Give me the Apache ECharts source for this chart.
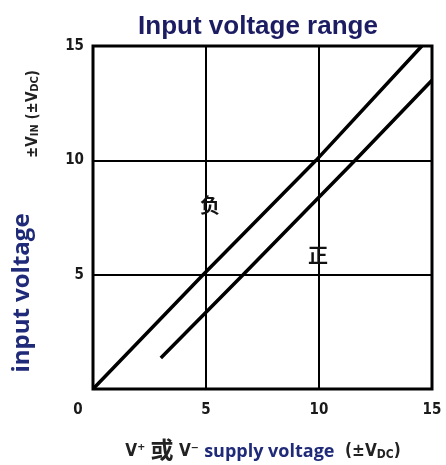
<!DOCTYPE html>
<html><head><meta charset="utf-8">
<script src="https://cdn.jsdelivr.net/npm/echarts@6/dist/echarts.min.js"></script>
<style>html,body{margin:0;padding:0;background:#fff;}#c{width:446px;height:465px;}</style>
</head><body><div id="c"></div>
<script>
// Tick labels
const xTicks = [0, 5, 10, 15];
const yTicks = [0, 5, 10, 15];
// Negative (负) input range line
const negX = [0, 4.87, 9.87, 14.55];
const negY = [0, 5, 10, 15];
// Positive (正) input range line
const posX = [3.0, 6.64, 11.6, 15];
const posY = [1.36, 5, 10, 13.5];
// Annotations
const labels = ['负', '正'];
const labelX = [5.18, 9.96];
const labelY = [8.05, 5.85];

const chart = echarts.init(document.getElementById('c'));
const pairs = (xs, ys) => xs.map((x, i) => [x, ys[i]]);
const tickFont = {fontFamily: 'DejaVu Sans Condensed', fontWeight: 'bold', fontSize: 15, color: '#1a1a1a'};

chart.setOption({
  animation: false,
  backgroundColor: '#fff',
  grid: {left: 93, right: 14, top: 46, bottom: 76, show: true, borderColor: '#000', borderWidth: 3},
  xAxis: {
    type: 'value', min: xTicks[0], max: xTicks[xTicks.length - 1], interval: 5,
    axisLine: {show: false}, axisTick: {show: false},
    splitLine: {show: true, lineStyle: {color: '#000', width: 2}},
    axisLabel: Object.assign({}, tickFont, {
      margin: 14,
      formatter: v => v === 0 ? '{z|0}' : String(v),
      rich: {z: Object.assign({}, tickFont, {padding: [0, 30, 0, 0]})}
    })
  },
  yAxis: {
    type: 'value', min: yTicks[0], max: yTicks[yTicks.length - 1], interval: 5,
    axisLine: {show: false}, axisTick: {show: false},
    splitLine: {show: true, lineStyle: {color: '#000', width: 2}},
    axisLabel: Object.assign({}, tickFont, {margin: 9, formatter: v => v === 0 ? '' : String(v)})
  },
  series: [
    {type: 'line', data: pairs(negX, negY), showSymbol: false, lineStyle: {color: '#000', width: 3.5}, silent: true,
     markPoint: {symbolSize: 0, silent: true,
       data: [{coord: [labelX[0], labelY[0]], value: labels[0]}],
       label: {show: true, formatter: p => p.value, color: '#111', fontSize: 20, fontFamily: 'Noto Sans CJK SC', fontWeight: 'bold'}}},
    {type: 'line', data: pairs(posX, posY), showSymbol: false, lineStyle: {color: '#000', width: 3.5}, silent: true,
     markPoint: {symbolSize: 0, silent: true,
       data: [{coord: [labelX[1], labelY[1]], value: labels[1]}],
       label: {show: true, formatter: p => p.value, color: '#111', fontSize: 20, fontFamily: 'Noto Sans CJK SC', fontWeight: 'bold'}}}
  ],
  graphic: [
    {type: 'text', x: 258, y: 27, style: {text: 'Input voltage range', fontFamily: 'Liberation Sans', fontWeight: 'bold', fontSize: 26, fill: '#1c1c62', align: 'center', verticalAlign: 'middle'}},
    {type: 'text', x: 22, y: 293, rotation: Math.PI / 2, style: {text: 'input voltage', fontFamily: 'Open Sans', fontWeight: 'bold', fontSize: 24, fill: '#1f2a78', align: 'center', verticalAlign: 'middle'}},
    {type: 'text', x: 32, y: 114, rotation: Math.PI / 2, style: {
      text: '{n|±V}{s|IN}{n| (±V}{s|DC}{n|)}', align: 'center', verticalAlign: 'middle',
      rich: {n: {fontFamily: 'DejaVu Sans Condensed', fontWeight: 'bold', fontSize: 15, fill: '#222', verticalAlign: 'bottom'},
             s: {fontFamily: 'DejaVu Sans Condensed', fontWeight: 'bold', fontSize: 11, fill: '#222', verticalAlign: 'bottom', padding: [7, 0, 0, 0]}}}},
    {type: 'text', x: 263, y: 449, style: {
      text: '{n|V⁺ }{c|或}{n| V⁻ }{b|supply voltage}{n|  (±V}{s|DC}{n|)}', align: 'center', verticalAlign: 'middle',
      rich: {n: {fontFamily: 'DejaVu Sans Condensed', fontWeight: 'bold', fontSize: 17, fill: '#222', verticalAlign: 'bottom'},
             c: {fontFamily: 'Noto Sans CJK SC', fontWeight: 'bold', fontSize: 23, fill: '#222', verticalAlign: 'bottom'},
             b: {fontFamily: 'Open Sans', fontWeight: 'bold', fontSize: 18, fill: '#1f2a78', verticalAlign: 'bottom'},
             s: {fontFamily: 'DejaVu Sans Condensed', fontWeight: 'bold', fontSize: 12, fill: '#222', verticalAlign: 'bottom', padding: [7, 0, 0, 0]}}}}
  ]
});
</script></body></html>
